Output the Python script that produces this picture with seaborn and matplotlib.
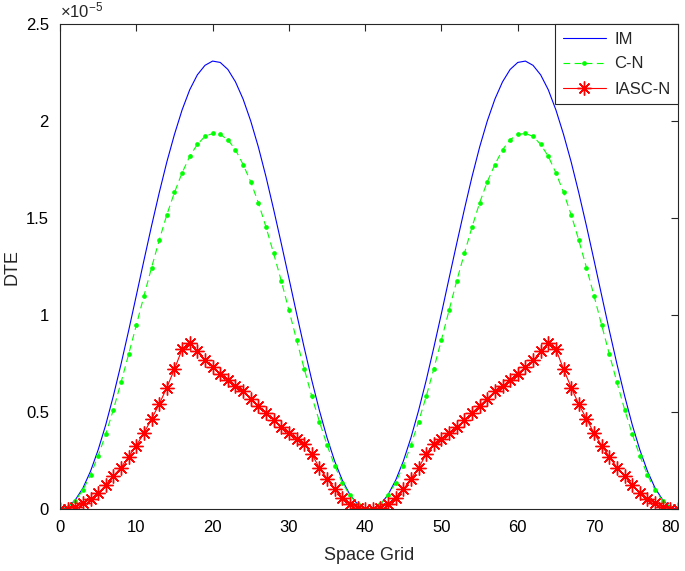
import numpy as np
import pandas as pd
import matplotlib
matplotlib.use("Agg")
import matplotlib.pyplot as plt
import seaborn as sns
from matplotlib.ticker import FuncFormatter, MultipleLocator

grid = list(range(0, 82))

im_vals = [0.000, 0.011, 0.048, 0.109, 0.196, 0.306, 0.436, 0.585, 0.748, 0.921,
           1.101, 1.282, 1.460, 1.630, 1.789, 1.931, 2.057, 2.161, 2.238, 2.287,
           2.309, 2.302, 2.266, 2.202, 2.113, 2.000, 1.866, 1.713, 1.545, 1.370,
           1.191, 1.010, 0.834, 0.665, 0.509, 0.369, 0.248, 0.150, 0.075, 0.026,
           0.003, 0.003, 0.026, 0.075, 0.150, 0.248, 0.369, 0.509, 0.665, 0.834,
           1.010, 1.191, 1.370, 1.545, 1.713, 1.866, 2.000, 2.113, 2.202, 2.266,
           2.302, 2.309, 2.287, 2.238, 2.161, 2.057, 1.931, 1.789, 1.630, 1.460,
           1.282, 1.101, 0.921, 0.748, 0.585, 0.436, 0.306, 0.196, 0.109, 0.048,
           0.011, 0.000]

cn_vals = [0.000, 0.010, 0.044, 0.099, 0.177, 0.275, 0.388, 0.514, 0.654, 0.799,
           0.948, 1.099, 1.245, 1.386, 1.517, 1.632, 1.733, 1.818, 1.880, 1.921,
           1.936, 1.931, 1.904, 1.852, 1.776, 1.687, 1.579, 1.454, 1.318, 1.177,
           1.026, 0.874, 0.725, 0.582, 0.452, 0.331, 0.225, 0.137, 0.072, 0.028,
           0.004, 0.004, 0.028, 0.072, 0.137, 0.225, 0.331, 0.452, 0.582, 0.725,
           0.874, 1.026, 1.177, 1.318, 1.454, 1.579, 1.687, 1.776, 1.852, 1.904,
           1.931, 1.936, 1.921, 1.880, 1.818, 1.733, 1.632, 1.517, 1.386, 1.245,
           1.099, 0.948, 0.799, 0.654, 0.514, 0.388, 0.275, 0.177, 0.099, 0.044,
           0.010, 0.000]

iascn_vals = [0.000, 0.003, 0.010, 0.031, 0.053, 0.082, 0.125, 0.172, 0.215, 0.271,
              0.328, 0.392, 0.466, 0.541, 0.627, 0.722, 0.824, 0.858, 0.813, 0.767,
              0.732, 0.699, 0.667, 0.634, 0.607, 0.570, 0.533, 0.497, 0.459, 0.422,
              0.395, 0.360, 0.338, 0.285, 0.213, 0.158, 0.102, 0.060, 0.028, 0.008,
              0.002, 0.002, 0.008, 0.028, 0.060, 0.102, 0.158, 0.213, 0.285, 0.338,
              0.360, 0.395, 0.422, 0.459, 0.497, 0.533, 0.570, 0.607, 0.634, 0.667,
              0.699, 0.732, 0.767, 0.813, 0.858, 0.824, 0.722, 0.627, 0.541, 0.466,
              0.392, 0.328, 0.271, 0.215, 0.172, 0.125, 0.082, 0.053, 0.031, 0.010,
              0.003, 0.000]

scale = 1e-5
labels = ["IM", "C-N", "IASC-N"]

df = pd.DataFrame({
    "x": grid,
    "IM": [v * scale for v in im_vals],
    "C-N": [v * scale for v in cn_vals],
    "IASC-N": [v * scale for v in iascn_vals],
})

sns.set_theme(style="white")
plt.rcParams["font.family"] = ["Liberation Sans", "DejaVu Sans"]
plt.rcParams["mathtext.fontset"] = "custom"
plt.rcParams["mathtext.rm"] = "Liberation Sans"
plt.rcParams["mathtext.it"] = "Liberation Sans"
plt.rcParams["mathtext.default"] = "regular"

fig = plt.figure(figsize=(6.85, 5.71), dpi=100)
ax = fig.add_axes([60 / 685, 1 - 509.3 / 571, 618 / 685, 485.3 / 571])

sns.lineplot(data=df, x="x", y="IM", ax=ax, color=(0, 0, 1), linewidth=0.8,
             label=labels[0])
sns.lineplot(data=df, x="x", y="C-N", ax=ax, color=(0, 1, 0), linewidth=0.8,
             linestyle=(0, (6, 4)), marker="o", markersize=3.4,
             markeredgewidth=0, label=labels[1])
sns.lineplot(data=df, x="x", y="IASC-N", ax=ax, color=(1, 0, 0), linewidth=0.8,
             marker=(8, 2, 0), markersize=10, markeredgewidth=1.0,
             markeredgecolor=(1, 0, 0), label=labels[2])

ax.set_xlim(0, 81)
ax.set_ylim(0, 2.5e-5)
ax.xaxis.set_major_locator(MultipleLocator(10))
ax.yaxis.set_major_locator(MultipleLocator(0.5e-5))


def ylab(v, pos):
    return f"{v / scale:g}"


ax.yaxis.set_major_formatter(FuncFormatter(ylab))
ax.text(0.0, 1.008, r"$\times10^{-5}$", transform=ax.transAxes,
        fontsize=12, ha="left", va="bottom")

ax.set_xlabel("Space Grid", fontsize=13, labelpad=8)
ax.set_ylabel("DTE", fontsize=13, labelpad=4)

ax.tick_params(direction="in", length=5, width=0.8, top=True, right=True,
               labelsize=12, colors="#262626", labelcolor="black")
ax.tick_params(axis="x", pad=8)
ax.tick_params(axis="y", pad=8)
for sp in ax.spines.values():
    sp.set_visible(True)
    sp.set_color("#262626")
    sp.set_linewidth(0.8)

leg = ax.legend(loc="upper right", borderaxespad=0, fancybox=False,
                framealpha=1, edgecolor="#262626", fontsize=12,
                handlelength=2.6, borderpad=0.45, labelspacing=0.6,
                handletextpad=0.5)
leg.get_frame().set_linewidth(0.8)

fig.savefig("out.png", dpi=100, facecolor="white")
